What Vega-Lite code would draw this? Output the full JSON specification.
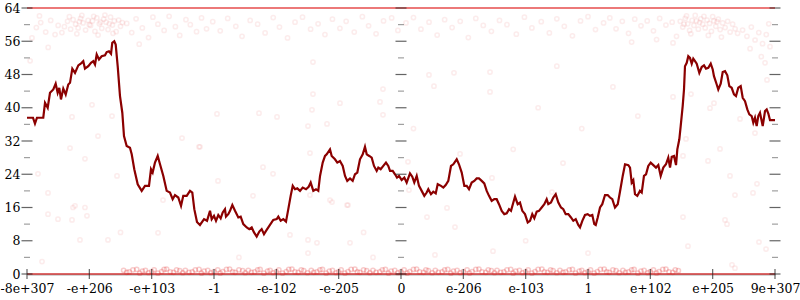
{
  "$schema": "https://vega.github.io/schema/vega-lite/v6.json",
  "width": 748,
  "height": 266,
  "autosize": {"type": "none"},
  "padding": {"left": 27, "top": 8, "right": 25, "bottom": 26},
  "background": "white",
  "config": {
    "view": {"stroke": null},
    "axis": {"grid": false, "labelFont": "DejaVu Serif, serif", "labelFontSize": 12, "labelColor": "#000", "ticks": false, "tickSize": 0}
  },
  "datasets": {
    "line": [
      {"x":-6.000,"y":37.6},{"x":-5.904,"y":37.6},{"x":-5.872,"y":36.2},{"x":-5.840,"y":37.6},{"x":-5.739,"y":37.6},{"x":-5.711,"y":41.2},{"x":-5.668,"y":40},{"x":-5.631,"y":43.6},{"x":-5.578,"y":44.4},{"x":-5.540,"y":45.8},{"x":-5.508,"y":43.6},{"x":-5.482,"y":44.8},{"x":-5.455,"y":42},{"x":-5.418,"y":44.6},{"x":-5.379,"y":43.2},{"x":-5.338,"y":45.6},{"x":-5.310,"y":46},{"x":-5.273,"y":49.4},{"x":-5.230,"y":48.4},{"x":-5.177,"y":50.2},{"x":-5.123,"y":50.8},{"x":-5.097,"y":51.2},{"x":-5.070,"y":49.4},{"x":-5.017,"y":50},{"x":-4.973,"y":50.8},{"x":-4.936,"y":51.2},{"x":-4.909,"y":50.4},{"x":-4.882,"y":52.8},{"x":-4.845,"y":51.6},{"x":-4.802,"y":52.4},{"x":-4.749,"y":52.6},{"x":-4.721,"y":53.4},{"x":-4.685,"y":53.6},{"x":-4.652,"y":53},{"x":-4.632,"y":55.6},{"x":-4.600,"y":56},{"x":-4.577,"y":55.2},{"x":-4.545,"y":50},{"x":-4.508,"y":42.8},{"x":-4.471,"y":38.8},{"x":-4.444,"y":33.2},{"x":-4.401,"y":30.8},{"x":-4.348,"y":30.4},{"x":-4.320,"y":28.8},{"x":-4.279,"y":25.2},{"x":-4.224,"y":21.6},{"x":-4.160,"y":20},{"x":-4.107,"y":21.2},{"x":-4.043,"y":21.2},{"x":-4.011,"y":25.2},{"x":-3.984,"y":24.4},{"x":-3.947,"y":26.8},{"x":-3.903,"y":28.4},{"x":-3.866,"y":26.4},{"x":-3.813,"y":23.6},{"x":-3.759,"y":20},{"x":-3.706,"y":19.6},{"x":-3.663,"y":18},{"x":-3.626,"y":19},{"x":-3.573,"y":18.4},{"x":-3.529,"y":16.4},{"x":-3.493,"y":18.8},{"x":-3.438,"y":18.8},{"x":-3.385,"y":20},{"x":-3.348,"y":19.6},{"x":-3.316,"y":15.6},{"x":-3.273,"y":12.5},{"x":-3.225,"y":11.8},{"x":-3.160,"y":13.2},{"x":-3.112,"y":12.8},
      {"x":-3.064,"y":15.2},{"x":-3.037,"y":13.2},{"x":-3.000,"y":14},{"x":-2.968,"y":12.8},{"x":-2.931,"y":14.2},{"x":-2.893,"y":13.4},{"x":-2.860,"y":14.8},{"x":-2.824,"y":15.6},{"x":-2.808,"y":13.8},{"x":-2.771,"y":14.4},{"x":-2.743,"y":15.2},{"x":-2.706,"y":16.6},{"x":-2.663,"y":15.2},{"x":-2.610,"y":13.6},{"x":-2.572,"y":13.8},{"x":-2.530,"y":12},{"x":-2.475,"y":11.2},{"x":-2.434,"y":10.8},{"x":-2.395,"y":11.2},{"x":-2.358,"y":10},{"x":-2.315,"y":9},{"x":-2.273,"y":10.2},{"x":-2.235,"y":10.8},{"x":-2.198,"y":9.6},{"x":-2.155,"y":10.6},{"x":-2.102,"y":11.8},{"x":-2.049,"y":13},{"x":-1.994,"y":13.2},{"x":-1.968,"y":13.8},{"x":-1.930,"y":12.8},{"x":-1.888,"y":13.2},{"x":-1.845,"y":12.6},{"x":-1.808,"y":15.6},{"x":-1.770,"y":18.8},{"x":-1.737,"y":21.2},{"x":-1.701,"y":20.4},{"x":-1.664,"y":20.6},{"x":-1.620,"y":20},{"x":-1.577,"y":20.8},{"x":-1.524,"y":20.4},{"x":-1.481,"y":21},{"x":-1.449,"y":22},{"x":-1.407,"y":20},{"x":-1.364,"y":20.4},{"x":-1.327,"y":20},{"x":-1.299,"y":23.6},{"x":-1.256,"y":26.8},{"x":-1.219,"y":28.4},{"x":-1.192,"y":28.8},{"x":-1.139,"y":30},{"x":-1.112,"y":28.4},{"x":-1.059,"y":27.6},{"x":-1.022,"y":26.8},{"x":-0.979,"y":27.2},{"x":-0.935,"y":26},{"x":-0.898,"y":23.6},{"x":-0.862,"y":22.4},{"x":-0.818,"y":23},{"x":-0.775,"y":22.4},{"x":-0.738,"y":24},{"x":-0.701,"y":24.4},{"x":-0.658,"y":27.6},{"x":-0.614,"y":28.8},{"x":-0.578,"y":30.6},{"x":-0.550,"y":28.8},{"x":-0.509,"y":28.4},{"x":-0.470,"y":28},{"x":-0.433,"y":26},{"x":-0.390,"y":24.8},{"x":-0.364,"y":25.6},{"x":-0.326,"y":25.2},{"x":-0.284,"y":26},{"x":-0.241,"y":26.8},{"x":-0.204,"y":26},{"x":-0.176,"y":24.8},{"x":-0.133,"y":24.8},{"x":-0.096,"y":24},{"x":-0.064,"y":23.2},{"x":-0.032,"y":23.6},
      {"x":0.011,"y":22.6},{"x":0.053,"y":23.2},{"x":0.091,"y":22},{"x":0.144,"y":24.2},{"x":0.181,"y":23.4},{"x":0.213,"y":22},{"x":0.252,"y":23.6},{"x":0.289,"y":21.2},{"x":0.332,"y":20},{"x":0.374,"y":18.8},{"x":0.412,"y":19.6},{"x":0.438,"y":20.4},{"x":0.481,"y":19.2},{"x":0.518,"y":19.8},{"x":0.557,"y":19.4},{"x":0.589,"y":21.6},{"x":0.642,"y":21.2},{"x":0.679,"y":20.8},{"x":0.717,"y":21.4},{"x":0.759,"y":22.4},{"x":0.802,"y":26},{"x":0.839,"y":26.4},{"x":0.894,"y":27.6},{"x":0.930,"y":26.4},{"x":0.974,"y":24.4},{"x":1.016,"y":21.2},{"x":1.054,"y":21.2},{"x":1.091,"y":20.4},{"x":1.134,"y":22},{"x":1.176,"y":22.4},{"x":1.214,"y":23},{"x":1.251,"y":23},{"x":1.295,"y":22.4},{"x":1.336,"y":21.8},{"x":1.375,"y":20},{"x":1.412,"y":18.8},{"x":1.455,"y":17.6},{"x":1.497,"y":18},{"x":1.535,"y":18},{"x":1.572,"y":16.8},{"x":1.616,"y":15.2},{"x":1.657,"y":14.4},{"x":1.696,"y":14.6},{"x":1.733,"y":15.6},{"x":1.765,"y":15.2},{"x":1.802,"y":17.2},{"x":1.829,"y":18.6},{"x":1.872,"y":16.8},{"x":1.909,"y":17.2},{"x":1.946,"y":15.2},{"x":1.989,"y":14.4},{"x":2.033,"y":12.4},{"x":2.070,"y":12.8},{"x":2.106,"y":14.4},{"x":2.139,"y":13.4},{"x":2.177,"y":15},{"x":2.214,"y":15.2},{"x":2.257,"y":16},{"x":2.299,"y":16.8},{"x":2.337,"y":18},{"x":2.363,"y":16.8},{"x":2.406,"y":17.2},{"x":2.443,"y":18.4},{"x":2.482,"y":19.2},{"x":2.524,"y":17.2},{"x":2.567,"y":16},{"x":2.604,"y":15.6},{"x":2.642,"y":14.4},{"x":2.684,"y":14.4},{"x":2.727,"y":13.6},{"x":2.764,"y":12.8},{"x":2.803,"y":13.2},{"x":2.844,"y":11.8},{"x":2.872,"y":11.2},{"x":2.909,"y":12.8},{"x":2.952,"y":14.2},{"x":2.995,"y":14.4},{"x":3.032,"y":14},{"x":3.069,"y":14.2},{"x":3.101,"y":12},{"x":3.124,"y":11.8},{"x":3.156,"y":13.6},{"x":3.193,"y":16},{"x":3.229,"y":16.8},{"x":3.273,"y":19},{"x":3.316,"y":19},{"x":3.353,"y":18.4},{"x":3.390,"y":18},{"x":3.433,"y":16},{"x":3.477,"y":16.8},{"x":3.513,"y":19.8},{"x":3.557,"y":23.6},{"x":3.594,"y":26.4},{"x":3.647,"y":26.2},{"x":3.674,"y":25.6},{"x":3.701,"y":22},{"x":3.727,"y":22.6},{"x":3.754,"y":19.2},{"x":3.791,"y":18.8},{"x":3.834,"y":20},{"x":3.862,"y":19.6},{"x":3.898,"y":23.6},{"x":3.931,"y":24},{"x":3.967,"y":26},{"x":4.006,"y":26.8},{"x":4.048,"y":26.2},{"x":4.091,"y":25.6},{"x":4.128,"y":26.2},{"x":4.166,"y":23.6},{"x":4.208,"y":25.6},{"x":4.251,"y":26.4},{"x":4.288,"y":28},{"x":4.316,"y":25.6},{"x":4.343,"y":28.2},{"x":4.380,"y":28.4},{"x":4.412,"y":26.2},{"x":4.433,"y":30},{"x":4.465,"y":32.4},{"x":4.487,"y":35.6},{"x":4.519,"y":40.4},{"x":4.540,"y":44.4},{"x":4.556,"y":50},{"x":4.584,"y":50.8},{"x":4.609,"y":52.4},{"x":4.636,"y":52},{"x":4.664,"y":50.6},{"x":4.689,"y":51.8},{"x":4.717,"y":51.2},{"x":4.744,"y":50.6},{"x":4.786,"y":48.4},{"x":4.824,"y":49.8},{"x":4.861,"y":50.2},{"x":4.893,"y":49.4},{"x":4.930,"y":49.6},{"x":4.969,"y":50.6},{"x":5.001,"y":49.2},{"x":5.021,"y":47.6},{"x":5.065,"y":45.6},{"x":5.090,"y":44.4},{"x":5.129,"y":45.8},{"x":5.161,"y":48.6},{"x":5.198,"y":48.8},{"x":5.235,"y":47.8},{"x":5.267,"y":45.2},{"x":5.305,"y":44.8},{"x":5.342,"y":43.2},{"x":5.374,"y":42.8},{"x":5.411,"y":44.8},{"x":5.450,"y":45.2},{"x":5.482,"y":42.4},{"x":5.519,"y":41.6},{"x":5.556,"y":39.6},{"x":5.588,"y":38.4},{"x":5.626,"y":38},{"x":5.652,"y":36.4},{"x":5.679,"y":37.6},{"x":5.706,"y":35.6},{"x":5.732,"y":38},{"x":5.759,"y":38.8},{"x":5.803,"y":35.6},{"x":5.840,"y":39.2},{"x":5.867,"y":39.6},{"x":5.893,"y":38.6},{"x":5.920,"y":37},{"x":6.000,"y":37}
    ],
    "pts": [
      {"x":-5.40,"y":59.5},{"x":-5.35,"y":60.8},{"x":-5.30,"y":58.9},{"x":-5.26,"y":61.2},{"x":-5.22,"y":60.1},{"x":-5.18,"y":59.2},{"x":-5.14,"y":61.5},{"x":-5.10,"y":60.4},{"x":-5.06,"y":58.7},{"x":-5.02,"y":61.0},{"x":-4.98,"y":59.8},{"x":-4.95,"y":60.9},{"x":-4.91,"y":58.4},{"x":-4.88,"y":61.6},{"x":-4.84,"y":60.2},{"x":-4.80,"y":59.1},{"x":-4.77,"y":61.3},{"x":-4.73,"y":60.6},{"x":-4.70,"y":58.8},{"x":-4.66,"y":61.8},{"x":-4.63,"y":59.9},{"x":-4.60,"y":60.9},{"x":-4.57,"y":58.3},{"x":-4.53,"y":61.1},{"x":-4.50,"y":59.6},{"x":-4.47,"y":60.5},{"x":-5.32,"y":61.9},{"x":-5.12,"y":62.2},{"x":-4.93,"y":62.0},{"x":-4.75,"y":62.3},{"x":-5.20,"y":57.8},{"x":-4.86,"y":57.5},{"x":-4.62,"y":57.9},{"x":-5.44,"y":58.1},{"x":-4.68,"y":60.2},{"x":-4.82,"y":60.6},{"x":-5.00,"y":60.0},{"x":-5.16,"y":60.7},
      {"x":-5.92,"y":56.8},{"x":-5.85,"y":59.3},{"x":-5.78,"y":60.5},{"x":-5.70,"y":58.2},{"x":-5.62,"y":61.0},{"x":-5.55,"y":57.6},{"x":-5.50,"y":59.8},{"x":-5.66,"y":54.5},{"x":-5.95,"y":51.3},{"x":-5.80,"y":62.1},
      {"x":-4.40,"y":60.3},{"x":-4.32,"y":58.1},{"x":-4.25,"y":61.4},{"x":-4.15,"y":59.2},{"x":-4.05,"y":56.9},{"x":-3.98,"y":61.8},{"x":-3.90,"y":60.1},{"x":-3.80,"y":58.6},{"x":-3.72,"y":62.0},{"x":-3.62,"y":59.5},{"x":-3.55,"y":57.4},{"x":-3.45,"y":61.2},{"x":-3.38,"y":60.0},{"x":-3.28,"y":58.3},{"x":-3.20,"y":61.6},{"x":-3.12,"y":59.0},{"x":-4.20,"y":55.3},
      {"x":-3.02,"y":60.7},{"x":-2.90,"y":58.5},{"x":-2.78,"y":61.5},{"x":-2.65,"y":59.6},{"x":-2.55,"y":57.2},{"x":-2.42,"y":61.0},{"x":-2.30,"y":60.1},{"x":-2.18,"y":58.0},{"x":-2.05,"y":61.7},{"x":-1.95,"y":59.4},{"x":-1.82,"y":56.8},{"x":-1.70,"y":60.6},{"x":-1.58,"y":61.8},{"x":-1.45,"y":58.9},{"x":-1.33,"y":60.2},{"x":-1.22,"y":57.6},{"x":-1.10,"y":61.3},{"x":-0.98,"y":59.1},{"x":-0.88,"y":60.8},{"x":-0.75,"y":58.2},{"x":-0.62,"y":61.9},{"x":-0.52,"y":59.7},{"x":-0.40,"y":57.8},{"x":-0.28,"y":60.9},{"x":-0.15,"y":61.6},{"x":-0.05,"y":58.6},{"x":0.08,"y":60.4},{"x":0.20,"y":61.7},{"x":0.32,"y":58.9},{"x":0.45,"y":60.6},{"x":0.58,"y":57.5},{"x":0.70,"y":61.2},{"x":0.82,"y":59.3},{"x":0.95,"y":60.8},{"x":1.08,"y":56.9},{"x":1.20,"y":61.5},{"x":1.32,"y":59.8},{"x":1.45,"y":58.4},{"x":1.58,"y":61.0},{"x":1.70,"y":60.0},{"x":1.85,"y":57.7},{"x":1.98,"y":61.8},{"x":2.10,"y":59.2},{"x":2.25,"y":60.7},{"x":2.38,"y":58.0},{"x":2.50,"y":61.4},{"x":2.62,"y":59.6},{"x":2.75,"y":57.3},{"x":2.88,"y":60.9},{"x":3.00,"y":61.9},{"x":3.12,"y":58.8},
      {"x":3.25,"y":60.4},{"x":3.35,"y":61.6},{"x":3.45,"y":59.0},{"x":3.55,"y":60.8},{"x":3.65,"y":57.9},{"x":3.75,"y":61.3},{"x":3.85,"y":59.7},{"x":3.95,"y":60.9},{"x":4.05,"y":58.5},{"x":4.15,"y":61.5},{"x":4.25,"y":59.9},{"x":4.35,"y":60.6},{"x":4.42,"y":57.2},{"x":3.70,"y":55.8},{"x":4.10,"y":56.4},
      {"x":4.48,"y":60.8},{"x":4.52,"y":59.4},{"x":4.56,"y":61.5},{"x":4.60,"y":60.2},{"x":4.63,"y":58.6},{"x":4.67,"y":61.0},{"x":4.70,"y":59.8},{"x":4.74,"y":60.9},{"x":4.77,"y":58.9},{"x":4.81,"y":61.4},{"x":4.84,"y":60.1},{"x":4.88,"y":59.2},{"x":4.91,"y":61.1},{"x":4.95,"y":60.3},{"x":4.98,"y":58.4},{"x":5.02,"y":60.9},{"x":5.05,"y":59.6},{"x":5.09,"y":61.3},{"x":5.12,"y":58.8},{"x":5.16,"y":60.4},{"x":5.20,"y":59.3},{"x":5.24,"y":60.8},{"x":5.28,"y":58.2},{"x":5.32,"y":60.1},{"x":5.36,"y":59.0},{"x":5.40,"y":57.9},{"x":4.58,"y":62.1},{"x":4.72,"y":62.2},{"x":4.86,"y":62.0},{"x":5.00,"y":61.9},{"x":4.65,"y":57.8},{"x":4.93,"y":57.4},{"x":5.14,"y":57.0},{"x":4.79,"y":60.5},{"x":4.54,"y":60.1},{"x":5.07,"y":60.7},
      {"x":5.48,"y":58.7},{"x":5.55,"y":57.2},{"x":5.62,"y":59.4},{"x":5.68,"y":56.3},{"x":5.74,"y":58.1},{"x":5.80,"y":55.4},{"x":5.86,"y":57.6},{"x":5.92,"y":54.7},{"x":5.60,"y":54.2},{"x":5.78,"y":52.3},{"x":5.90,"y":60.2},
      {"x":-5.663,"y":14.4},{"x":-5.503,"y":13.2},{"x":-5.278,"y":13},{"x":-5.262,"y":16},{"x":-5.070,"y":16},{"x":-5.038,"y":14},{"x":-5.150,"y":8.2},{"x":-4.701,"y":8.2},{"x":-3.898,"y":9.9},{"x":-5.759,"y":3},{"x":-3.818,"y":17.8},{"x":-1.107,"y":17.3},{"x":-0.850,"y":16.6},{"x":-1.492,"y":8.2},{"x":-1.348,"y":7.5},{"x":-0.818,"y":7.5},{"x":-1.492,"y":5},{"x":-0.449,"y":4},{"x":0.417,"y":13.7},{"x":0.866,"y":11.3},{"x":0.545,"y":4.6},{"x":1.476,"y":5.5},{"x":4.524,"y":13.7},{"x":5.198,"y":13},{"x":5.230,"y":12},{"x":4.604,"y":6.7},{"x":5.743,"y":7.7},{"x":5.856,"y":6},{"x":5.310,"y":2.2},{"x":5.358,"y":1.4},
      {"x":-1.412,"y":51},{"x":-1.412,"y":43.3},{"x":-0.289,"y":44.5},{"x":0.449,"y":47.9},{"x":0.850,"y":48.4},{"x":1.428,"y":48.6},{"x":1.428,"y":43.8},{"x":0.529,"y":45.2},{"x":-2.952,"y":38.5},{"x":-2.278,"y":38.7},{"x":-1.989,"y":37.8},{"x":-1.428,"y":39.5},{"x":-1.187,"y":36.1},{"x":-0.979,"y":41.1},{"x":-0.337,"y":41.4},{"x":-0.289,"y":38.3},{"x":-1.492,"y":35.6},{"x":-2.214,"y":25.7},{"x":-2.053,"y":24.1},{"x":-2.936,"y":22.4},{"x":-2.374,"y":18.8},{"x":-1.460,"y":29.1},{"x":-1.460,"y":19},{"x":-1.139,"y":17.8},{"x":-0.866,"y":16.6},{"x":-1.781,"y":9.4},{"x":-3.225,"y":30.6},
      {"x":-4.957,"y":40.7},{"x":-5.278,"y":37.8},{"x":-5.824,"y":24.1},{"x":-4.861,"y":33.2},{"x":-4.636,"y":38},{"x":-5.310,"y":30.3},{"x":-5.070,"y":27.7},{"x":-5.663,"y":19.5},{"x":-4.556,"y":23.6},{"x":-3.513,"y":32.7},{"x":-3.241,"y":30.6},{"x":-5.230,"y":16.4},
      {"x":0.112,"y":27},{"x":0.128,"y":20.2},{"x":0.947,"y":28.9},{"x":1.460,"y":23.1},{"x":2.599,"y":26.7},{"x":2.422,"y":19.7},{"x":0.738,"y":15.9},
      {"x":4.364,"y":55.6},{"x":4.364,"y":42.6},{"x":4.652,"y":43.3},{"x":4.957,"y":39.9},{"x":5.021,"y":41.1},{"x":4.572,"y":32.5},{"x":4.524,"y":28.4},{"x":5.118,"y":30.1},{"x":4.925,"y":27.2},{"x":5.439,"y":37.3},{"x":5.679,"y":33.9},{"x":5.278,"y":23.6},{"x":5.711,"y":21.7},{"x":5.647,"y":19.5},{"x":5.358,"y":19},{"x":5.840,"y":50.8},{"x":5.872,"y":46.7},
      {"x":2.2,"y":40},{"x":2.9,"y":35},{"x":3.4,"y":45},{"x":1.8,"y":30},{"x":3.8,"y":38},{"x":2.5,"y":50},{"x":0.2,"y":35},{"x":-0.6,"y":10},{"x":2.0,"y":8},{"x":3.0,"y":5},{"x":-2.6,"y":4},{"x":-4.5,"y":10}
    ],
    "band": [
      {"x":-4.45,"y":0.9},{"x":-4.36,"y":0.5},{"x":-4.24,"y":1.1},{"x":-4.15,"y":0.7},{"x":-4.05,"y":0.3},{"x":-3.96,"y":1.0},{"x":-3.84,"y":0.6},{"x":-3.76,"y":1.2},{"x":-3.65,"y":0.4},{"x":-3.55,"y":0.8},
      {"x":-3.46,"y":0.9},{"x":-3.35,"y":0.5},{"x":-3.24,"y":1.1},{"x":-3.16,"y":0.7},{"x":-3.05,"y":0.3},{"x":-2.94,"y":1.0},{"x":-2.86,"y":0.6},{"x":-2.75,"y":1.2},{"x":-2.66,"y":0.4},{"x":-2.54,"y":0.8},
      {"x":-2.45,"y":0.9},{"x":-2.35,"y":0.5},{"x":-2.26,"y":1.1},{"x":-2.14,"y":0.7},{"x":-2.05,"y":0.3},{"x":-1.96,"y":1.0},{"x":-1.84,"y":0.6},{"x":-1.75,"y":1.2},{"x":-1.65,"y":0.4},{"x":-1.56,"y":0.8},
      {"x":-1.44,"y":0.9},{"x":-1.35,"y":0.5},{"x":-1.26,"y":1.1},{"x":-1.15,"y":0.7},{"x":-1.04,"y":0.3},{"x":-0.96,"y":1.0},{"x":-0.85,"y":0.6},{"x":-0.74,"y":1.2},{"x":-0.66,"y":0.4},{"x":-0.55,"y":0.8},
      {"x":-0.45,"y":0.9},{"x":-0.34,"y":0.5},{"x":-0.25,"y":1.1},{"x":-0.16,"y":0.7},{"x":-0.05,"y":0.3},{"x":0.05,"y":1.0},{"x":0.14,"y":0.6},{"x":0.25,"y":1.2},{"x":0.36,"y":0.4},{"x":0.44,"y":0.8},
      {"x":0.55,"y":0.9},{"x":0.66,"y":0.5},{"x":0.75,"y":1.1},{"x":0.84,"y":0.7},{"x":0.95,"y":0.3},{"x":1.06,"y":1.0},{"x":1.14,"y":0.6},{"x":1.25,"y":1.2},{"x":1.36,"y":0.4},{"x":1.45,"y":0.8},
      {"x":1.54,"y":0.9},{"x":1.65,"y":0.5},{"x":1.76,"y":1.1},{"x":1.84,"y":0.7},{"x":1.95,"y":0.3},{"x":2.04,"y":1.0},{"x":2.15,"y":0.6},{"x":2.26,"y":1.2},{"x":2.35,"y":0.4},{"x":2.44,"y":0.8},
      {"x":2.55,"y":0.9},{"x":2.64,"y":0.5},{"x":2.75,"y":1.1},{"x":2.86,"y":0.7},{"x":2.95,"y":0.3},{"x":3.04,"y":1.0},{"x":3.15,"y":0.6},{"x":3.26,"y":1.2},{"x":3.34,"y":0.4},{"x":3.45,"y":0.8},
      {"x":3.56,"y":0.9},{"x":3.65,"y":0.5},{"x":3.74,"y":1.1},{"x":3.85,"y":0.7},{"x":3.96,"y":0.3},{"x":4.05,"y":1.0},{"x":4.14,"y":0.6},{"x":4.25,"y":1.2},{"x":4.36,"y":0.4},{"x":4.45,"y":0.8},
      {"x":-4.40,"y":0.4},{"x":-4.30,"y":1.0},{"x":-4.19,"y":0.2},{"x":-4.10,"y":0.9},{"x":-4.00,"y":0.6},{"x":-3.90,"y":0.2},{"x":-3.80,"y":1.1},{"x":-3.70,"y":0.5},{"x":-3.60,"y":1.0},{"x":-3.50,"y":0.3},
      {"x":-3.40,"y":0.4},{"x":-3.30,"y":1.0},{"x":-3.20,"y":0.2},{"x":-3.10,"y":0.9},{"x":-3.00,"y":0.6},{"x":-2.90,"y":0.2},{"x":-2.80,"y":1.1},{"x":-2.70,"y":0.5},{"x":-2.60,"y":1.0},{"x":-2.50,"y":0.3},
      {"x":-2.40,"y":0.4},{"x":-2.30,"y":1.0},{"x":-2.20,"y":0.2},{"x":-2.10,"y":0.9},{"x":-2.00,"y":0.6},{"x":-1.90,"y":0.2},{"x":-1.80,"y":1.1},{"x":-1.70,"y":0.5},{"x":-1.60,"y":1.0},{"x":-1.50,"y":0.3},
      {"x":-1.40,"y":0.4},{"x":-1.30,"y":1.0},{"x":-1.20,"y":0.2},{"x":-1.10,"y":0.9},{"x":-1.00,"y":0.6},{"x":-0.90,"y":0.2},{"x":-0.80,"y":1.1},{"x":-0.70,"y":0.5},{"x":-0.60,"y":1.0},{"x":-0.50,"y":0.3},
      {"x":-0.40,"y":0.4},{"x":-0.30,"y":1.0},{"x":-0.20,"y":0.2},{"x":-0.10,"y":0.9},{"x":0.00,"y":0.6},{"x":0.10,"y":0.2},{"x":0.20,"y":1.1},{"x":0.30,"y":0.5},{"x":0.40,"y":1.0},{"x":0.50,"y":0.3},
      {"x":0.60,"y":0.4},{"x":0.70,"y":1.0},{"x":0.80,"y":0.2},{"x":0.90,"y":0.9},{"x":1.00,"y":0.6},{"x":1.10,"y":0.2},{"x":1.20,"y":1.1},{"x":1.30,"y":0.5},{"x":1.40,"y":1.0},{"x":1.50,"y":0.3},
      {"x":1.60,"y":0.4},{"x":1.70,"y":1.0},{"x":1.80,"y":0.2},{"x":1.90,"y":0.9},{"x":2.00,"y":0.6},{"x":2.10,"y":0.2},{"x":2.20,"y":1.1},{"x":2.30,"y":0.5},{"x":2.40,"y":1.0},{"x":2.50,"y":0.3},
      {"x":2.60,"y":0.4},{"x":2.70,"y":1.0},{"x":2.80,"y":0.2},{"x":2.90,"y":0.9},{"x":3.00,"y":0.6},{"x":3.10,"y":0.2},{"x":3.20,"y":1.1},{"x":3.30,"y":0.5},{"x":3.40,"y":1.0},{"x":3.50,"y":0.3},
      {"x":3.60,"y":0.4},{"x":3.70,"y":1.0},{"x":3.80,"y":0.2},{"x":3.90,"y":0.9},{"x":4.00,"y":0.6},{"x":4.10,"y":0.2},{"x":4.20,"y":1.1},{"x":4.30,"y":0.5},{"x":4.40,"y":1.0}
    ],
    "hrules": [{"x":-6,"x2":6,"y":64},{"x":-6,"x2":6,"y":0}],
    "vrules": [{"x":-6},{"x":0},{"x":6}],
    "majY": [
      {"x":-6,"y":0},{"x":-6,"y":8},{"x":-6,"y":16},{"x":-6,"y":24},{"x":-6,"y":32},{"x":-6,"y":40},{"x":-6,"y":48},{"x":-6,"y":56},{"x":-6,"y":64},
      {"x":0,"y":0},{"x":0,"y":8},{"x":0,"y":16},{"x":0,"y":24},{"x":0,"y":32},{"x":0,"y":40},{"x":0,"y":48},{"x":0,"y":56},{"x":0,"y":64},
      {"x":6,"y":0},{"x":6,"y":8},{"x":6,"y":16},{"x":6,"y":24},{"x":6,"y":32},{"x":6,"y":40},{"x":6,"y":48},{"x":6,"y":56},{"x":6,"y":64}
    ],
    "minY": [
      {"x":-6,"y":4},{"x":-6,"y":12},{"x":-6,"y":20},{"x":-6,"y":28},{"x":-6,"y":36},{"x":-6,"y":44},{"x":-6,"y":52},{"x":-6,"y":60},
      {"x":0,"y":4},{"x":0,"y":12},{"x":0,"y":20},{"x":0,"y":28},{"x":0,"y":36},{"x":0,"y":44},{"x":0,"y":52},{"x":0,"y":60},
      {"x":6,"y":4},{"x":6,"y":12},{"x":6,"y":20},{"x":6,"y":28},{"x":6,"y":36},{"x":6,"y":44},{"x":6,"y":52},{"x":6,"y":60}
    ],
    "xt": [
      {"x":-6,"y":0},{"x":-5,"y":0},{"x":-4,"y":0},{"x":-3,"y":0},{"x":-2,"y":0},{"x":-1,"y":0},{"x":0,"y":0},{"x":1,"y":0},{"x":2,"y":0},{"x":3,"y":0},{"x":4,"y":0},{"x":5,"y":0},{"x":6,"y":0}
    ]
  },
  "encoding": {
    "x": {
      "field": "x", "type": "quantitative",
      "scale": {"domain": [-6, 6], "nice": false, "zero": false},
      "axis": {
        "title": null, "values": [-6,-5,-4,-3,-2,-1,0,1,2,3,4,5,6],
        "labelExpr": "['-8e+307','-e+206','-e+103','-1','-e-102','-e-205','0','e-206','e-103','1','e+102','e+205','9e+307'][datum.value + 6]",
        "labelFont": "DejaVu Serif, serif", "labelFontSize": 12.5,
        "labelPadding": 8, "labelAngle": 0, "labelFlush": false, "labelOverlap": false,
        "domain": true, "domainColor": "#aaaaaa", "domainWidth": 2
      }
    },
    "y": {
      "field": "y", "type": "quantitative",
      "scale": {"domain": [0, 64], "nice": false, "zero": false},
      "axis": {
        "title": null, "values": [0,8,16,24,32,40,48,56,64],
        "labelFont": "DejaVu Serif, serif", "labelFontSize": 12.5,
        "labelPadding": 7, "labelFlush": false, "labelOverlap": false, "domain": false
      }
    }
  },
  "layer": [
    {"data": {"name": "pts"}, "mark": {"type": "point", "shape": "circle", "filled": false, "color": "#e00000", "opacity": 0.07, "size": 18, "strokeWidth": 1.5}},
    {"data": {"name": "band"}, "mark": {"type": "point", "shape": "circle", "filled": false, "color": "#e00000", "opacity": 0.2, "size": 18, "strokeWidth": 1.5}},
    {"data": {"name": "vrules"}, "mark": {"type": "rule", "color": "#aaaaaa", "strokeWidth": 2}, "encoding": {"y": {"datum": 0}, "y2": {"datum": 64}}},
    {"data": {"name": "hrules"}, "mark": {"type": "rule", "color": "#e02020", "opacity": 0.6, "strokeWidth": 2}, "encoding": {"x2": {"field": "x2"}}},
    {"data": {"name": "line"}, "mark": {"type": "line", "color": "#8b0000", "strokeWidth": 2.2}},
    {"data": {"name": "majY"}, "mark": {"type": "tick", "orient": "horizontal", "size": 11, "thickness": 1.2, "color": "#222222"}},
    {"data": {"name": "minY"}, "mark": {"type": "tick", "orient": "horizontal", "size": 6, "thickness": 1.2, "color": "#777777"}},
    {"data": {"name": "xt"}, "mark": {"type": "tick", "orient": "vertical", "size": 10, "thickness": 1.2, "color": "#222222"}}
  ]
}
